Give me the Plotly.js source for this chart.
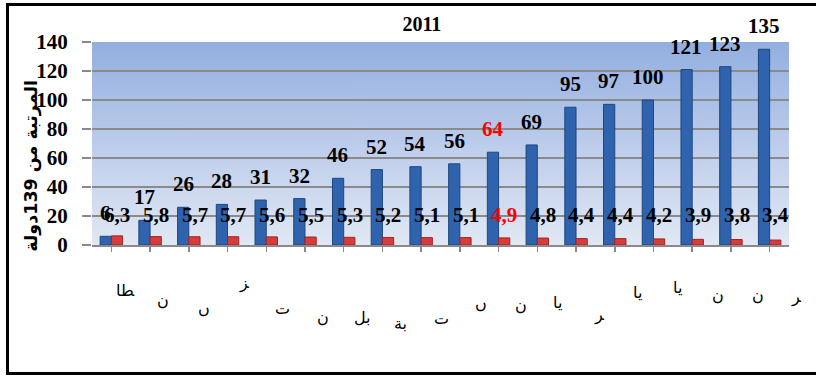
<!DOCTYPE html>
<html>
<head>
<meta charset="utf-8">
<script src="https://cdn.plot.ly/plotly-3.0.1.min.js"></script>
<style>
  html, body { margin: 0; padding: 0; background: #fff; }
  #wrap { position: relative; width: 816px; height: 376px; overflow: hidden; }
  #chart { width: 816px; height: 376px; }
  #frame { position: absolute; left: 6px; top: 3px; width: 820px; height: 366px;
           border: 3px solid #000; pointer-events: none; }
</style>
</head>
<body>
<div id="wrap"><div id="chart"></div><div id="frame"></div></div>
<script>
// Category labels (as shown under each pair of bars)
const categories = ['ﻄﺎ', 'ن', 'ں', 'ﺰ', 'ت', 'ن', 'بل', 'بة', 'ت',
                    'ں', 'ن', 'يا', 'ﺮ', 'يا', 'يا', 'ن', 'ن', 'ﺮ'];
// Rank out of 139 countries
const rankValues = [6, 17, 26, 28, 31, 32, 46, 52, 54, 56, 64, 69, 95, 97, 100, 121, 123, 135];
// Index score
const scoreValues = [6.3, 5.8, 5.7, 5.7, 5.6, 5.5, 5.3, 5.2, 5.1, 5.1, 4.9, 4.8, 4.4, 4.4, 4.2, 3.9, 3.8, 3.4];
const highlightIndex = 10;
const yTicks = [0, 20, 40, 60, 80, 100, 120, 140];

// Pixel offsets of the category captions below the axis (layout only)
const capDx = [14, 13, 15, 16, 16, 18, 19, 18, 20, 21, 22, 20, 23, 23, 24, 26, 27, 26];
const capDy = [45, 55, 63, 38, 63, 72, 72, 78, 73, 58, 60, 57, 70, 47, 42, 50, 50, 52];

const idx = categories.map((_, i) => i);
const serif = 'Liberation Serif, Times New Roman, serif';
const fmt = v => v.toFixed(1).replace('.', ',');

// Vertical blue gradient for the plot area
const cv = document.createElement('canvas');
cv.width = 4; cv.height = 256;
const ctx = cv.getContext('2d');
const grd = ctx.createLinearGradient(0, 0, 0, 256);
grd.addColorStop(0, '#93afe0');
grd.addColorStop(0.5, '#bccceb');
grd.addColorStop(1, '#e1e8f4');
ctx.fillStyle = grd;
ctx.fillRect(0, 0, 4, 256);
const bgUrl = cv.toDataURL('image/png');

const traces = [
  {
    type: 'bar', x: idx, y: rankValues, name: 'rank',
    marker: { color: '#2f63ae', line: { color: '#1d477f', width: 1 } },
    hoverinfo: 'x+y'
  },
  {
    type: 'bar', x: idx, y: scoreValues, name: 'score',
    marker: { color: '#d63c3c', line: { color: '#a02424', width: 1 } },
    hoverinfo: 'x+y'
  }
];

const annotations = [];
rankValues.forEach((v, i) => {
  annotations.push({
    x: i - 0.15, y: v, xref: 'x', yref: 'y', yshift: 23,
    text: String(v), showarrow: false, yanchor: 'middle',
    font: { family: serif, size: 21, weight: 'bold', color: i === highlightIndex ? '#ff0000' : '#000' }
  });
});
scoreValues.forEach((v, i) => {
  annotations.push({
    x: i + 0.15, y: 0, xref: 'x', yref: 'y', yshift: 30,
    text: fmt(v), showarrow: false, yanchor: 'middle',
    font: { family: serif, size: 21, weight: 'bold', color: i === highlightIndex ? '#ff0000' : '#000' }
  });
});
categories.forEach((c, i) => {
  annotations.push({
    x: i, y: 0, xref: 'x', yref: 'paper', xshift: capDx[i], yshift: -capDy[i],
    text: c, showarrow: false, yanchor: 'middle',
    font: { family: 'DejaVu Sans, sans-serif', size: 16, color: '#000' }
  });
});
// Rotated axis title
annotations.push({
  xref: 'paper', yref: 'paper', x: -0.104, y: 0.39,
  text: 'المرتبة من 139دولة', textangle: -90, showarrow: false,
  font: { family: 'DejaVu Sans, sans-serif', size: 17.5, weight: 'bold', color: '#000' }
});

const layout = {
  width: 816, height: 376,
  margin: { l: 92, r: 27, t: 42, b: 131 },
  paper_bgcolor: '#ffffff',
  plot_bgcolor: 'rgba(0,0,0,0)',
  showlegend: false,
  barmode: 'group', bargap: 0.42, bargroupgap: 0,
  title: {
    text: '2011', xref: 'container', x: 0.517, y: 0.935, yanchor: 'middle',
    font: { family: serif, size: 20, weight: 'bold', color: '#000' }
  },
  xaxis: {
    range: [-0.5, 17.5], tickvals: idx, ticktext: idx.map(() => ''),
    ticks: 'outside', ticklen: 5, tickcolor: '#8a8a8a', tickwidth: 1.5,
    showline: true, linecolor: '#8a8a8a', linewidth: 1.5,
    showgrid: false, zeroline: false, fixedrange: true
  },
  yaxis: {
    range: [0, 140], tickvals: yTicks,
    ticks: 'outside', ticklen: 9, tickcolor: '#8a8a8a', tickwidth: 1.5,
    ticklabelstandoff: 10,
    tickfont: { family: serif, size: 21, weight: 'bold', color: '#000' },
    showgrid: true, gridcolor: '#8a8a8a', gridwidth: 1.5,
    zeroline: false, showline: false, fixedrange: true
  },
  images: [{
    source: bgUrl, xref: 'paper', yref: 'paper', x: 0, y: 1,
    sizex: 1, sizey: 1, sizing: 'stretch', xanchor: 'left', yanchor: 'top', layer: 'below'
  }],
  annotations: annotations
};

Plotly.newPlot('chart', traces, layout, { displayModeBar: false, staticPlot: true });
</script>
</body>
</html>
